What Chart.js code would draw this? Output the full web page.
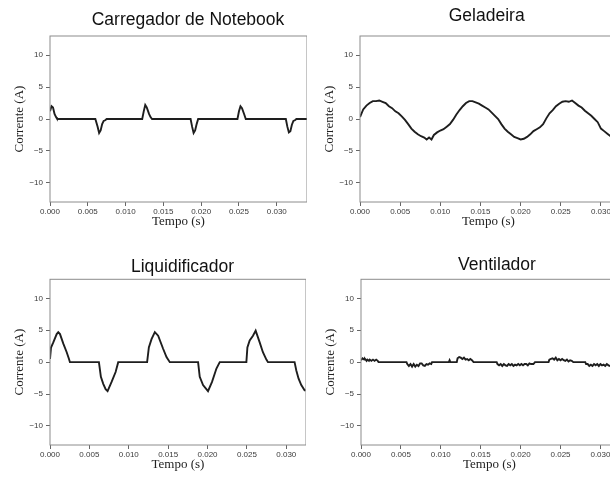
<!DOCTYPE html>
<html>
<head>
<meta charset="utf-8">
<script src="https://cdn.jsdelivr.net/npm/chart.js@4.4.1/dist/chart.umd.min.js"></script>
<style>
    html, body { margin: 0; padding: 0; background: #fff; overflow: hidden; }
    body { width: 610px; height: 480px; position: relative; }
    canvas { position: absolute; }
</style>
</head>
<body>
<canvas id="carregador" width="307" height="234" style="left:0px;top:0px"></canvas>
<canvas id="geladeira" width="307" height="234" style="left:310px;top:0px"></canvas>
<canvas id="liquidificador" width="306" height="237" style="left:0px;top:240px"></canvas>
<canvas id="ventilador" width="307" height="237" style="left:310.7px;top:240px"></canvas>
<script>
    // Tick values shared by the four panels
    const xTicks = [0, 0.005, 0.010, 0.015, 0.020, 0.025, 0.030];
    const yTicks = [-10, -5, 0, 5, 10];

    // Carregador de Notebook
    const carregadorTempo = [0, 0.0002, 0.0004, 0.0006, 0.0008, 0.0009, 0.0010,
        0.0060, 0.0063, 0.0065, 0.0067, 0.0069, 0.0071, 0.0073, 0.0075,
        0.0122, 0.0124, 0.0126, 0.0128, 0.0131, 0.0133, 0.0135,
        0.0186, 0.0188, 0.0190, 0.0192, 0.0194, 0.0196,
        0.0248, 0.0250, 0.0252, 0.0254, 0.0257, 0.0259,
        0.0312, 0.0314, 0.0316, 0.0318, 0.0320, 0.0322, 0.0324, 0.0326, 0.0340];
    const carregadorCorrente = [1.2, 2.0, 1.8, 0.8, 0.3, 0.1, 0,
        0, -1.2, -2.2, -1.8, -0.8, -0.3, -0.2, 0,
        0, 1.2, 2.2, 1.8, 0.8, 0.3, 0,
        0, -1.2, -2.2, -1.8, -0.8, 0,
        0, 1.2, 2.0, 1.7, 0.7, 0,
        0, -1.2, -2.1, -1.9, -0.9, -0.3, -0.2, 0, 0];

    // Geladeira
    const geladeiraTempo = [0, 0.0004, 0.0008, 0.0012, 0.0016, 0.0020, 0.0024, 0.0028, 0.0032, 0.0036,
        0.0040, 0.0044, 0.0048, 0.0052, 0.0056, 0.0060, 0.0064, 0.0068, 0.0072, 0.0076,
        0.0080, 0.0083, 0.0086, 0.0089, 0.0092, 0.0096, 0.0100, 0.0104, 0.0108, 0.0112,
        0.0116, 0.0120, 0.0124, 0.0128, 0.0132, 0.0136, 0.0140, 0.0144, 0.0148, 0.0152,
        0.0156, 0.0160, 0.0164, 0.0168, 0.0172, 0.0176, 0.0180, 0.0184, 0.0188, 0.0192,
        0.0196, 0.0200, 0.0204, 0.0208, 0.0212, 0.0216, 0.0220, 0.0224, 0.0228, 0.0232,
        0.0236, 0.0240, 0.0244, 0.0248, 0.0252, 0.0256, 0.0260, 0.0264, 0.0268, 0.0272,
        0.0276, 0.0280, 0.0284, 0.0288, 0.0292, 0.0296, 0.0300, 0.0304, 0.0308, 0.0312,
        0.0316, 0.0320];
    const geladeiraCorrente = [0.3, 1.5, 2.1, 2.5, 2.8, 2.8, 2.9, 2.7, 2.5, 2.0,
        1.7, 1.2, 0.9, 0.4, -0.15, -0.8, -1.5, -2.0, -2.4, -2.7,
        -2.9, -3.2, -2.9, -3.2, -2.5, -2.1, -1.8, -1.6, -1.2, -0.8,
        -0.1, 0.7, 1.4, 2.0, 2.5, 2.8, 2.8, 2.6, 2.4, 2.1,
        1.8, 1.5, 1.0, 0.5, 0.0, -0.8, -1.5, -2.0, -2.4, -2.8,
        -3.0, -3.2, -3.1, -2.8, -2.4, -1.9, -1.6, -1.3, -0.8, 0.1,
        0.9, 1.4, 2.0, 2.4, 2.7, 2.8, 2.7, 2.9, 2.5, 2.1,
        1.8, 1.3, 0.9, 0.5, 0.0, -0.5, -1.5, -1.9, -2.3, -2.7,
        -3.0, -3.1];

    // Liquidificador
    const liquidificadorTempo = [0, 0.00013, 0.00042, 0.00085, 0.00105, 0.00127, 0.00169, 0.00212, 0.00241, 0.00253,
        0.00621, 0.00646, 0.00676, 0.00706, 0.00731, 0.00782, 0.00833, 0.00866,
        0.01233, 0.01255, 0.01289, 0.01331, 0.01373, 0.01436, 0.01479, 0.01521,
        0.0188, 0.01901, 0.01943, 0.02006, 0.02057, 0.02113, 0.02142, 0.02155,
        0.02493, 0.02506, 0.02535, 0.02577, 0.02611, 0.02662, 0.02703, 0.02747, 0.02767,
        0.03105, 0.03127, 0.03156, 0.0319, 0.03232, 0.03245];
    const liquidificadorCorrente = [0.5, 2.3, 3.1, 4.4, 4.7, 4.4, 2.9, 1.55, 0.5, 0,
        0, -2.3, -3.4, -4.25, -4.55, -3.1, -1.55, 0,
        0, 2.3, 3.6, 4.7, 4.15, 2.1, 0.8, 0,
        0, -2.3, -3.6, -4.55, -3.1, -1.0, -0.3, 0,
        0, 2.3, 3.4, 4.15, 4.95, 3.1, 1.55, 0.4, 0,
        0, -1.3, -2.6, -3.6, -4.4, -4.4];

    // Ventilador
    const ventiladorTempo = [0, 0.0002, 0.0004, 0.0005, 0.0007, 0.0008, 0.0010, 0.0011, 0.0013, 0.0015,
        0.0017, 0.0019, 0.0021, 0.0022, 0.0057, 0.0058, 0.0060, 0.0062, 0.0064, 0.0066,
        0.0068, 0.0070, 0.0072, 0.0074, 0.0076, 0.0078, 0.0080, 0.0082, 0.0084, 0.0086,
        0.0088, 0.0089, 0.0110, 0.0111, 0.0112, 0.0120, 0.0121, 0.0123, 0.0125, 0.0127,
        0.0129, 0.0131, 0.0133, 0.0135, 0.0137, 0.0139, 0.0141, 0.0170, 0.0171, 0.0173,
        0.0175, 0.0177, 0.0179, 0.0181, 0.0183, 0.0185, 0.0187, 0.0189, 0.0191, 0.0193,
        0.0195, 0.0197, 0.0199, 0.0201, 0.0203, 0.0205, 0.0207, 0.0209, 0.0211, 0.0213,
        0.0216, 0.0218, 0.0235, 0.0236, 0.0238, 0.0240, 0.0242, 0.0244, 0.0246, 0.0248,
        0.0250, 0.0252, 0.0254, 0.0256, 0.0258, 0.0260, 0.0262, 0.0264, 0.0266, 0.0281,
        0.0282, 0.0284, 0.0286, 0.0288, 0.0290, 0.0292, 0.0294, 0.0296, 0.0298, 0.0300,
        0.0302, 0.0304, 0.0306, 0.0308, 0.0310, 0.0312, 0.0316, 0.0322];
    const ventiladorCorrente = [0.3, 0.6, 0.4, 0.5, 0.2, 0.4, 0.2, 0.4, 0.2, 0.4,
        0.2, 0.4, 0.2, 0.0, 0.0, -0.3, -0.6, -0.3, -0.7, -0.3,
        -0.7, -0.4, -0.6, -0.2, -0.2, -0.5, -0.6, -0.3, -0.4, -0.2,
        -0.3, 0.0, 0.0, 0.3, 0.0, 0.0, 0.6, 0.8, 0.7, 0.5,
        0.7, 0.4, 0.5, 0.3, 0.5, 0.3, 0.0, 0.0, -0.3, -0.5,
        -0.3, -0.6, -0.3, -0.5, -0.6, -0.3, -0.5, -0.3, -0.6, -0.4,
        -0.5, -0.3, -0.5, -0.3, -0.5, -0.3, -0.3, -0.5, -0.2, -0.3,
        -0.3, 0.0, 0.0, 0.4, 0.5, 0.6, 0.4, 0.7, 0.3, 0.5,
        0.3, 0.5, 0.3, 0.2, 0.4, 0.1, 0.3, 0.2, 0.0, 0.0,
        -0.3, -0.3, -0.6, -0.4, -0.6, -0.3, -0.5, -0.3, -0.6, -0.3,
        -0.5, -0.4, -0.6, -0.3, -0.5, -0.6, -0.4, -0.5];

    // Draws the grey box round the plot and the panel title
    const panelPlugin = {
        id: 'panel',
        afterDraw(chart, args, opts) {
            const { ctx, chartArea } = chart;
            ctx.save();
            ctx.strokeStyle = '#8c8c8c';
            ctx.lineWidth = 1;
            ctx.strokeRect(chartArea.left, chartArea.top,
                chartArea.right - chartArea.left, chartArea.bottom - chartArea.top);
            ctx.fillStyle = '#111';
            ctx.font = '17.5px "Liberation Sans", Arial, sans-serif';
            ctx.textAlign = 'center';
            ctx.textBaseline = 'alphabetic';
            ctx.fillText(opts.text, opts.x, opts.y);
            ctx.restore();
        }
    };

    function formatY(v) {
        return v < 0 ? '\u2212' + Math.abs(v) : String(v);
    }

    function drawPanel(id, tempo, corrente, xMax, top, title) {
        const points = tempo.map((t, i) => ({ x: t, y: corrente[i] }));
        return new Chart(document.getElementById(id), {
            type: 'line',
            data: {
                datasets: [{
                    data: points,
                    borderColor: '#1e1e1e',
                    borderWidth: 1.9,
                    pointRadius: 0,
                    tension: 0,
                    fill: false
                }]
            },
            options: {
                responsive: false,
                animation: false,
                layout: { padding: { top: top, left: 0, right: 0, bottom: 0 } },
                plugins: {
                    legend: { display: false },
                    tooltip: { enabled: false },
                    panel: title
                },
                scales: {
                    x: {
                        type: 'linear',
                        min: 0,
                        max: xMax,
                        afterBuildTicks: s => { s.ticks = xTicks.map(v => ({ value: v })); },
                        afterFit: s => { s.height = 32; },
                        ticks: {
                            callback: v => v.toFixed(3),
                            font: { family: '"Liberation Sans", Arial', size: 8 },
                            color: '#3a3a3a',
                            padding: 1,
                            maxRotation: 0,
                            autoSkip: false
                        },
                        grid: { drawOnChartArea: false, drawTicks: true, tickLength: 4, tickColor: '#666' },
                        border: { display: false },
                        title: {
                            display: true,
                            text: 'Tempo (s)',
                            font: { family: '"Liberation Serif", "Times New Roman", serif', size: 13 },
                            color: '#222',
                            padding: { top: 0, bottom: 4.2 }
                        }
                    },
                    y: {
                        min: -13,
                        max: 13,
                        afterBuildTicks: s => { s.ticks = yTicks.map(v => ({ value: v })); },
                        afterFit: s => { s.width = 50; },
                        ticks: {
                            callback: formatY,
                            font: { family: '"Liberation Sans", Arial', size: 8 },
                            color: '#3a3a3a',
                            padding: 3
                        },
                        grid: { drawOnChartArea: false, drawTicks: true, tickLength: 4, tickColor: '#666' },
                        border: { display: false },
                        title: {
                            display: true,
                            text: 'Corrente (A)',
                            font: { family: '"Liberation Serif", "Times New Roman", serif', size: 13 },
                            color: '#222',
                            padding: { top: 11.5, bottom: 0 }
                        }
                    }
                }
            },
            plugins: [panelPlugin]
        });
    }

    drawPanel('carregador', carregadorTempo, carregadorCorrente, 0.034, 36,
        { text: 'Carregador de Notebook', x: 188, y: 25 });
    drawPanel('geladeira', geladeiraTempo, geladeiraCorrente, 0.032, 36,
        { text: 'Geladeira', x: 176.7, y: 20.7 });
    drawPanel('liquidificador', liquidificadorTempo, liquidificadorCorrente, 0.0325, 39.3,
        { text: 'Liquidificador', x: 182.5, y: 31.7 });
    drawPanel('ventilador', ventiladorTempo, ventiladorCorrente, 0.0322, 39.3,
        { text: 'Ventilador', x: 186, y: 30 });
</script>
</body>
</html>
